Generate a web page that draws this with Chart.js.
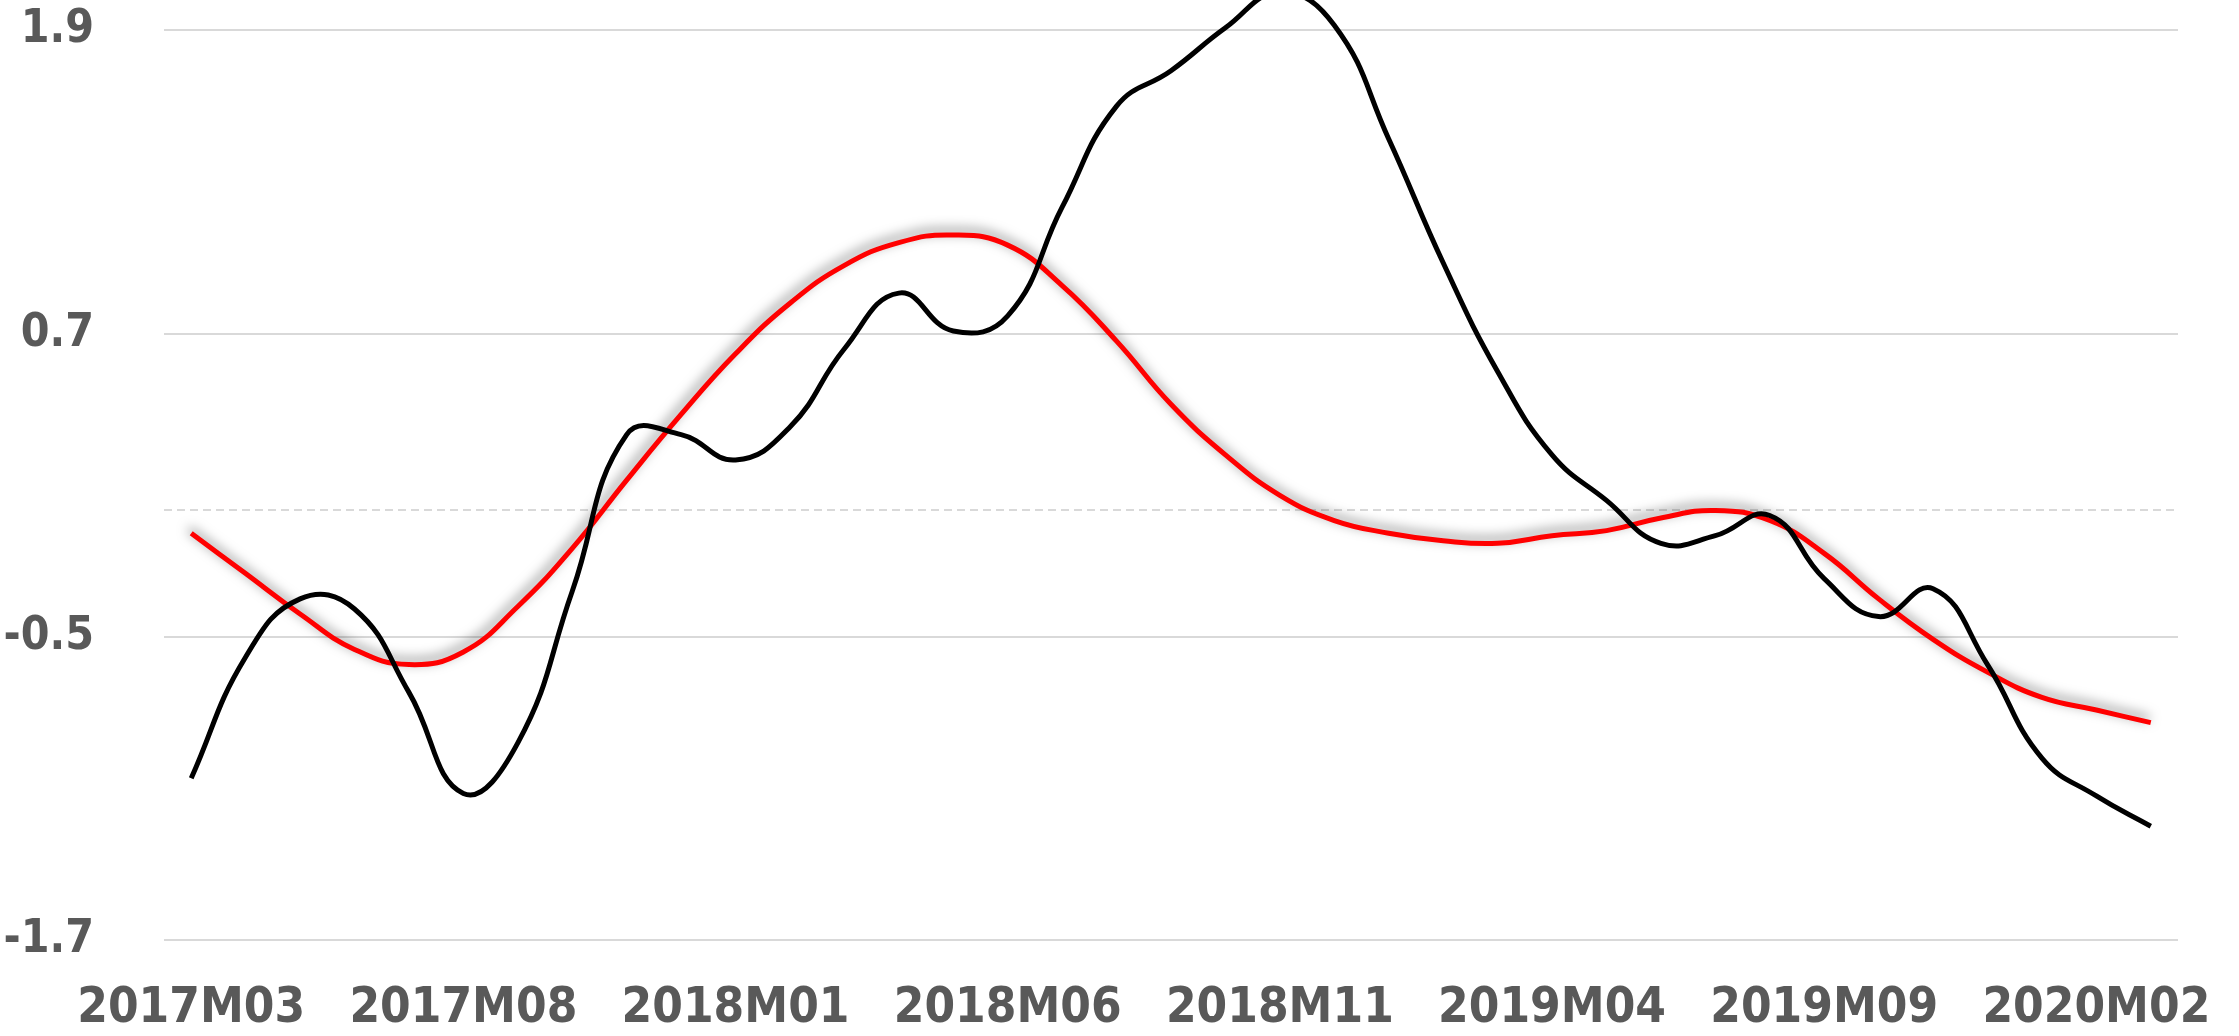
<!DOCTYPE html>
<html>
<head>
<meta charset="utf-8">
<script src="https://cdn.jsdelivr.net/npm/chart.js@4.4.1/dist/chart.umd.min.js"></script>
<style>
  html, body { margin: 0; padding: 0; background: #fff; }
  #wrap { width: 2239px; height: 1036px; }
</style>
</head>
<body>
<div id="wrap"><canvas id="chart"></canvas></div>
<script>
// months 2017M03 .. 2020M03
const months = [
  '2017M03','2017M04','2017M05','2017M06','2017M07','2017M08','2017M09','2017M10','2017M11','2017M12',
  '2018M01','2018M02','2018M03','2018M04','2018M05','2018M06','2018M07','2018M08','2018M09','2018M10',
  '2018M11','2018M12','2019M01','2019M02','2019M03','2019M04','2019M05','2019M06','2019M07','2019M08',
  '2019M09','2019M10','2019M11','2019M12','2020M01','2020M02','2020M03'
];
const xTickLabels = ['2017M03','2017M08','2018M01','2018M06','2018M11','2019M04','2019M09','2020M02'];
const yTickValues = [-1.7, -0.5, 0, 0.7, 1.9];

const blackSeries = [
  -1.06, -0.58, -0.35, -0.39, -0.72, -1.12, -0.92, -0.32, 0.30, 0.30,
  0.20, 0.33, 0.64, 0.86, 0.71, 0.77, 1.20, 1.60, 1.74, 1.91,
  2.05, 1.92, 1.47, 0.98, 0.55, 0.22, 0.04, -0.13, -0.10, -0.02,
  -0.27, -0.42, -0.31, -0.61, -0.98, -1.13, -1.25
];
const redSeries = [
  -0.09, -0.25, -0.41, -0.55, -0.61, -0.56, -0.38, -0.15, 0.12, 0.38,
  0.62, 0.82, 0.97, 1.06, 1.09, 1.05, 0.89, 0.67, 0.42, 0.22,
  0.06, -0.04, -0.09, -0.12, -0.13, -0.10, -0.08, -0.03, 0.00, -0.04,
  -0.17, -0.35, -0.51, -0.64, -0.74, -0.79, -0.84
];

const fontFamily = "'DejaVu Sans Condensed', 'DejaVu Sans', sans-serif";

// soft grey glow on the upper side of the red line
const shadowPlugin = {
  id: 'redShadow',
  beforeDatasetDraw(chart, args) {
    if (args.index !== 1) return;
    const ctx = chart.ctx;
    ctx.save();
    ctx.shadowColor = 'rgba(0,0,0,0.5)';
    ctx.shadowBlur = 12;
    ctx.shadowOffsetX = -2;
    ctx.shadowOffsetY = -4;
  },
  afterDatasetDraw(chart, args) {
    if (args.index !== 1) return;
    chart.ctx.restore();
  }
};

new Chart(document.getElementById('chart'), {
  type: 'line',
  data: {
    labels: months,
    datasets: [
      {
        data: blackSeries,
        borderColor: '#000000',
        borderWidth: 5,
        pointRadius: 0,
        tension: 0.45,
        fill: false
      },
      {
        data: redSeries,
        borderColor: '#ff0000',
        borderWidth: 5,
        pointRadius: 0,
        tension: 0.45,
        fill: false
      }
    ]
  },
  plugins: [shadowPlugin],
  options: {
    responsive: true,
    maintainAspectRatio: false,
    animation: false,
    layout: { padding: { left: 0, right: 61, top: 0, bottom: 0 } },
    plugins: { legend: { display: false }, tooltip: { enabled: false } },
    scales: {
      x: {
        offset: true,
        grid: { display: false },
        border: { display: false },
        ticks: {
          autoSkip: false,
          maxRotation: 0,
          minRotation: 0,
          padding: 32,
          color: '#595959',
          font: { family: fontFamily, size: 49, weight: 'bold' },
          callback(value, i) {
            const m = months[i];
            return xTickLabels.includes(m) ? m : '';
          }
        },
        afterFit(scale) { scale.height = 96; }
      },
      y: {
        min: -1.7,
        max: 2.02,
        afterBuildTicks(scale) {
          scale.ticks = yTickValues.map(v => ({ value: v }));
        },
        afterFit(scale) {
          scale.width = 164;
          scale.paddingTop = 0;
          scale.paddingBottom = 0;
        },
        grid: {
          drawTicks: false,
          color: '#d9d9d9',
          lineWidth: 2
        },
        border: {
          display: false,
          dash(ctx) { return ctx.tick && ctx.tick.value === 0 ? [8, 5] : []; }
        },
        ticks: {
          padding: 70,
          color: '#595959',
          font: { family: fontFamily, size: 46, weight: 'bold' },
          callback(value) { return value === 0 ? '' : value.toFixed(1); }
        }
      }
    }
  }
});
</script>
</body>
</html>
